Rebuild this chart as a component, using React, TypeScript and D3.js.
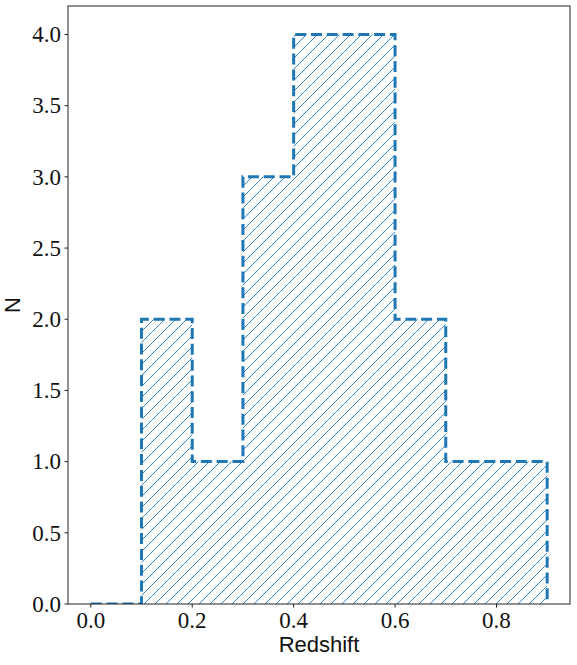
import React from "react";
import * as d3 from "d3";

const binEdges = [0.0, 0.1, 0.2, 0.3, 0.4, 0.5, 0.6, 0.7, 0.8, 0.9];
const counts = [0, 2, 1, 3, 4, 4, 2, 1, 1];
const xTicks = [0.0, 0.2, 0.4, 0.6, 0.8];
const yTicks = [0.0, 0.5, 1.0, 1.5, 2.0, 2.5, 3.0, 3.5, 4.0];
const xLabel = "Redshift";
const yLabel = "N";

const W = 577;
const H = 665;
const M = { left: 68, right: 570, top: 6, bottom: 604 };
const BLUE = "#1f77b4";

export default function App() {
  const x = d3.scaleLinear().domain([-0.045, 0.945]).range([M.left, M.right]);
  const y = d3.scaleLinear().domain([0, 4.2]).range([M.bottom, M.top]);

  const pts: [number, number][] = [[binEdges[0], 0]];
  counts.forEach((c, i) => {
    pts.push([binEdges[i], c]);
    pts.push([binEdges[i + 1], c]);
  });
  pts.push([binEdges[binEdges.length - 1], 0]);
  const line = d3.line<[number, number]>().x((d) => x(d[0])).y((d) => y(d[1]));
  const outline = line(pts) || "";
  const fillPath = outline + "Z";

  const serif = "'Liberation Serif', 'DejaVu Serif', serif";
  const sans = "'Liberation Sans', 'DejaVu Sans', sans-serif";

  return (
    <svg
      width={W}
      height={H}
      style={{ position: "absolute", left: 0, top: 0, background: "#fff" }}
    >
      <defs>
        <pattern id="hatch" patternUnits="userSpaceOnUse" width={11} height={11}>
          <path
            d="M-1,1 l2,-2 M0,11 l11,-11 M10,12 l2,-2"
            stroke={BLUE}
            strokeWidth={0.9}
          />
        </pattern>
        <clipPath id="plotclip">
          <rect x={M.left} y={M.top} width={M.right - M.left} height={M.bottom - M.top} />
        </clipPath>
      </defs>
      <rect x={0} y={0} width={W} height={H} fill="#fff" />
      <g clipPath="url(#plotclip)">
        <path d={fillPath} fill="url(#hatch)" stroke="none" />
        <path
          d={outline}
          fill="none"
          stroke={BLUE}
          strokeWidth={3}
          strokeDasharray="11,4.8"
          strokeLinejoin="miter"
        />
      </g>
      <rect
        x={M.left}
        y={M.top}
        width={M.right - M.left}
        height={M.bottom - M.top}
        fill="none"
        stroke="#222"
        strokeWidth={1}
      />
      {xTicks.map((t) => (
        <g key={"x" + t}>
          <line x1={x(t)} x2={x(t)} y1={M.bottom} y2={M.bottom + 3.5} stroke="#222" strokeWidth={1} />
          <text x={x(t)} y={628} textAnchor="middle" fontFamily={serif} fontSize={23} fill="#111">
            {t.toFixed(1)}
          </text>
        </g>
      ))}
      {yTicks.map((t) => (
        <g key={"y" + t}>
          <line x1={M.left - 3.5} x2={M.left} y1={y(t)} y2={y(t)} stroke="#222" strokeWidth={1} />
          <text x={61} y={y(t) + 7.8} textAnchor="end" fontFamily={serif} fontSize={23} fill="#111">
            {t.toFixed(1)}
          </text>
        </g>
      ))}
      <text
        x={(M.left + M.right) / 2}
        y={652}
        textAnchor="middle"
        fontFamily={sans}
        fontSize={22}
        fill="#111"
      >
        {xLabel}
      </text>
      <text
        transform={`translate(20, ${(M.top + M.bottom) / 2}) rotate(-90)`}
        textAnchor="middle"
        fontFamily={sans}
        fontSize={22}
        fill="#111"
      >
        {yLabel}
      </text>
    </svg>
  );
}
